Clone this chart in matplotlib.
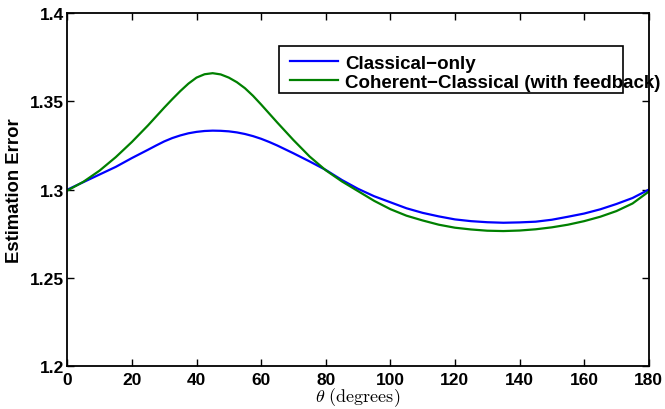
import matplotlib
matplotlib.use('Agg')
import matplotlib.pyplot as plt
from matplotlib.patches import Rectangle
from matplotlib.ticker import FuncFormatter

# values (denser around the peak)
theta = [0, 5, 10, 15, 20, 25, 27.5, 30, 32.5, 35, 37.5, 40, 42.5, 45, 47.5, 50,
         52.5, 55, 57.5, 60, 62.5, 65, 70, 75, 80, 85, 90, 95, 100, 105, 110, 115,
         120, 125, 130, 135, 140, 145, 150, 155, 160, 165, 170, 175, 180]
classical_only = [
    1.3000, 1.3043, 1.3086, 1.3129, 1.3179, 1.3226, 1.3250, 1.3273, 1.3292, 1.3307,
    1.3319, 1.3327, 1.3332, 1.3334, 1.3333, 1.3330, 1.3324, 1.3315, 1.3303, 1.3288,
    1.3270, 1.3250, 1.3206, 1.3160, 1.3112, 1.3055, 1.3005, 1.2963, 1.2929, 1.2895,
    1.2869, 1.2849, 1.2832, 1.2822, 1.2816, 1.2813, 1.2815, 1.2819, 1.2830, 1.2847,
    1.2865, 1.2889, 1.2919, 1.2953, 1.3000,
]
coherent_classical = [
    1.2995, 1.3045, 1.3108, 1.3184, 1.3270, 1.3364, 1.3414, 1.3464, 1.3512, 1.3558,
    1.3600, 1.3634, 1.3653, 1.3659, 1.3652, 1.3634, 1.3608, 1.3574, 1.3531, 1.3482,
    1.3431, 1.3380, 1.3281, 1.3188, 1.3110, 1.3047, 1.2992, 1.2937, 1.2890, 1.2853,
    1.2826, 1.2802, 1.2785, 1.2775, 1.2768, 1.2766, 1.2769, 1.2776, 1.2787, 1.2802,
    1.2822, 1.2847, 1.2879, 1.2922, 1.2989,
]
labels = ['Classical\u2212only', 'Coherent\u2212Classical (with feedback)']
xticks = list(range(0, 181, 20))
yticks = [1.2, 1.25, 1.3, 1.35, 1.4]

plt.rcParams['font.family'] = ['Liberation Sans', 'DejaVu Sans']
plt.rcParams['mathtext.fontset'] = 'cm'

fig = plt.figure(figsize=(6.65, 4.1), dpi=100)
ax = fig.add_axes([0.1012, 0.1037, 0.8743, 0.8624])

l1, = ax.plot(theta, classical_only, color=(0, 0, 1), lw=1.6)
l2, = ax.plot(theta, coherent_classical, color=(0, 0.5, 0), lw=1.6)

ax.set_xlim(0, 180)
ax.set_ylim(1.2, 1.4)
ax.set_xticks(xticks)
ax.set_yticks(yticks)
ax.yaxis.set_major_formatter(FuncFormatter(lambda v, p: '%g' % v))
ax.tick_params(direction='in', length=5, width=1, top=True, right=True,
               labelsize=12.5)
ax.tick_params(axis='x', pad=4)
ax.tick_params(axis='y', pad=2.5)
for lab in ax.get_xticklabels() + ax.get_yticklabels():
    lab.set_fontweight('bold')
for sp in ax.spines.values():
    sp.set_linewidth(1.3)

ax.set_ylabel('Estimation Error', fontsize=13.3, fontweight='bold', labelpad=5)
ax.set_xlabel(r'$\theta\ \mathrm{(degrees)}$', fontsize=13, labelpad=-1)

# MATLAB-style legend: text runs past the box edge, so draw the frame by hand
leg = ax.legend([l1, l2], labels, loc='upper left', frameon=False,
                bbox_to_anchor=(0.383, 0.882), handlelength=2.56, handletextpad=0.37,
                labelspacing=0.1, borderaxespad=0, borderpad=0,
                prop={'weight': 'bold', 'size': 13.5})
ax.add_patch(Rectangle((0.364, 0.7735), 0.5917, 0.1337, transform=ax.transAxes,
                       fill=False, lw=1.2, ec='black', zorder=5))

fig.savefig('out.png', dpi=100)
